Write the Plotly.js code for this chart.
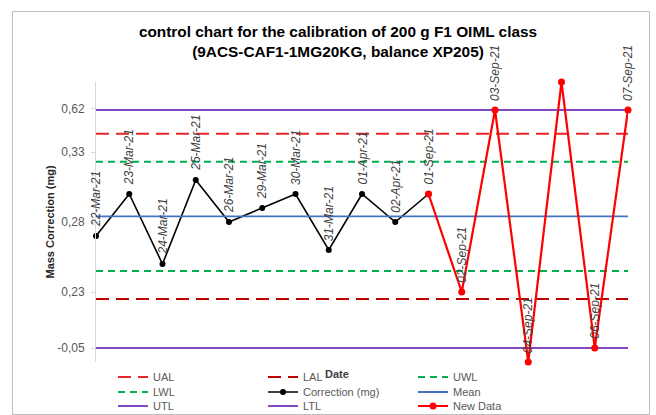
<!DOCTYPE html>
<html>
<head>
<meta charset="utf-8">
<script src="https://cdn.plot.ly/plotly-3.0.1.min.js"></script>
<style>html,body{margin:0;padding:0;background:#fff;}#chart{width:656px;height:415px;}</style>
</head>
<body>
<div id="chart"></div>
<script>
// ---- data ----
const categories = ['22-Mar-21','23-Mar-21','24-Mar-21','25-Mar-21','26-Mar-21','29-Mar-21','30-Mar-21','31-Mar-21','01-Apr-21','02-Apr-21','01-Sep-21','02-Sep-21','03-Sep-21','04-Sep-21','05-Sep-21','06-Sep-21','07-Sep-21'];
const correctionDates = ['22-Mar-21','23-Mar-21','24-Mar-21','25-Mar-21','26-Mar-21','29-Mar-21','30-Mar-21','31-Mar-21','01-Apr-21','02-Apr-21','01-Sep-21'];
const correctionValues = [0.27, 0.30, 0.25, 0.31, 0.28, 0.29, 0.30, 0.26, 0.30, 0.28, 0.30];
const newDataDates = ['01-Sep-21','02-Sep-21','03-Sep-21','04-Sep-21','05-Sep-21','06-Sep-21','07-Sep-21'];
const newDataValues = [0.30, 0.23, 0.36, 0.18, 0.38, 0.19, 0.36];
// dates that carry a visible data label in the reference (05-Sep-21 has none)
const labelledDates = ['22-Mar-21','23-Mar-21','24-Mar-21','25-Mar-21','26-Mar-21','29-Mar-21','30-Mar-21','31-Mar-21','01-Apr-21','02-Apr-21','01-Sep-21','02-Sep-21','03-Sep-21','04-Sep-21','06-Sep-21','07-Sep-21'];
const UAL = 0.343, LAL = 0.225, UWL = 0.323, LWL = 0.245, MEAN = 0.284, UTL = 0.36, LTL = 0.19;
const yTickVals = [0.19, 0.23, 0.28, 0.33, 0.361];
const yTickText = ['-0,05', '0,23', '0,28', '0,33', '0,62'];

const FONT = 'Liberation Sans, Arial, sans-serif';
const first = categories[0], last = categories[categories.length - 1];

function limitTrace(name, value, color, dash, width, legend) {
  return {
    x: [first, last], y: [value, value], name: name, mode: 'lines', type: 'scatter',
    line: {color: color, dash: dash, width: width}, legend: legend, hoverinfo: 'name+y'
  };
}

const traces = [
  limitTrace('UAL', UAL, '#e8262a', '13px,7px', 2, 'legend'),
  limitTrace('LAL', LAL, '#c00000', '13px,7px', 2, 'legend'),
  limitTrace('UWL', UWL, '#00b050', '7px,5px', 2, 'legend'),
  limitTrace('LWL', LWL, '#00b050', '7px,5px', 2, 'legend2'),
  {x: correctionDates, y: correctionValues, name: 'Correction (mg)', mode: 'lines+markers', type: 'scatter',
   line: {color: '#000000', width: 1.6}, marker: {color: '#000000', size: 6}, legend: 'legend2', cliponaxis: false},
  limitTrace('Mean', MEAN, '#4472c4', 'solid', 1.8, 'legend2'),
  limitTrace('UTL', UTL, '#8548c4', 'solid', 2, 'legend3'),
  limitTrace('LTL', LTL, '#8548c4', 'solid', 2, 'legend3'),
  {x: newDataDates, y: newDataValues, name: 'New Data', mode: 'lines+markers', type: 'scatter',
   line: {color: '#ff0000', width: 2.2}, marker: {color: '#ff0000', size: 7}, legend: 'legend3', cliponaxis: false}
];

// point labels
const labelY = {};
correctionDates.forEach((d, i) => { labelY[d] = correctionValues[i]; });
newDataDates.forEach((d, i) => { if (!(d in labelY)) labelY[d] = newDataValues[i]; });
const annotations = labelledDates.map(d => ({
  x: d, y: labelY[d], xref: 'x', yref: 'y', text: d, showarrow: false,
  textangle: -90, xanchor: 'center', yanchor: 'bottom', yshift: 7,
  font: {family: FONT, size: 12, color: '#404040', style: 'italic'}
}));
annotations.push({
  text: '<b>Date</b>', xref: 'paper', yref: 'paper', x: (337 - 96) / 532, y: (362 - 374) / 280,
  showarrow: false, xanchor: 'center', yanchor: 'middle',
  font: {family: FONT, size: 11, color: '#404040'}
});

function legendRow(yPix) {
  return {
    orientation: 'h', xref: 'container', yref: 'container',
    x: 113 / 656, xanchor: 'left', y: 1 - yPix / 415, yanchor: 'middle',
    entrywidth: 105, entrywidthmode: 'pixels', bgcolor: 'rgba(0,0,0,0)',
    font: {family: FONT, size: 11, color: '#595959'}, itemclick: false, itemdoubleclick: false
  };
}

const layout = {
  width: 656, height: 415,
  margin: {l: 96, r: 28, t: 82, b: 53},
  paper_bgcolor: '#ffffff', plot_bgcolor: '#ffffff',
  font: {family: FONT},
  title: {
    text: '<b>control chart for the calibration of 200 g F1 OIML class<br>(9ACS-CAF1-1MG20KG, balance XP205)</b>',
    font: {family: FONT, size: 15.4, color: '#000000'},
    xref: 'container', yref: 'container', x: 338 / 656, xanchor: 'center', y: 1 - 37 / 415, yanchor: 'top'
  },
  xaxis: {
    type: 'category', categoryorder: 'array', categoryarray: categories,
    range: [0, categories.length - 1], showticklabels: false, showgrid: false, zeroline: false,
    showline: false, ticks: ''
  },
  yaxis: {
    range: [0.18, 0.38], tickvals: yTickVals, ticktext: yTickText,
    showgrid: false, zeroline: false, showline: true, linecolor: '#d9d9d9', linewidth: 1,
    ticks: 'outside', ticklen: 4, tickcolor: '#d9d9d9', ticklabelstandoff: 4,
    tickfont: {family: FONT, size: 12, color: '#595959'},
    title: {text: '<b>Mass Correction (mg)</b>', font: {family: FONT, size: 11, color: '#262626'}, standoff: 0}
  },
  legend: legendRow(377),
  legend2: legendRow(392),
  legend3: legendRow(406),
  annotations: annotations,
  shapes: [{
    type: 'rect', xref: 'paper', yref: 'paper', layer: 'below',
    x0: (12.5 - 96) / 532, x1: (649.5 - 96) / 532, y0: (362 - 414.5) / 280, y1: (362 - 11.5) / 280,
    line: {color: '#bfbfbf', width: 1}, fillcolor: 'rgba(0,0,0,0)'
  }]
};

Plotly.newPlot('chart', traces, layout, {displayModeBar: false, staticPlot: true});
</script>
</body>
</html>
